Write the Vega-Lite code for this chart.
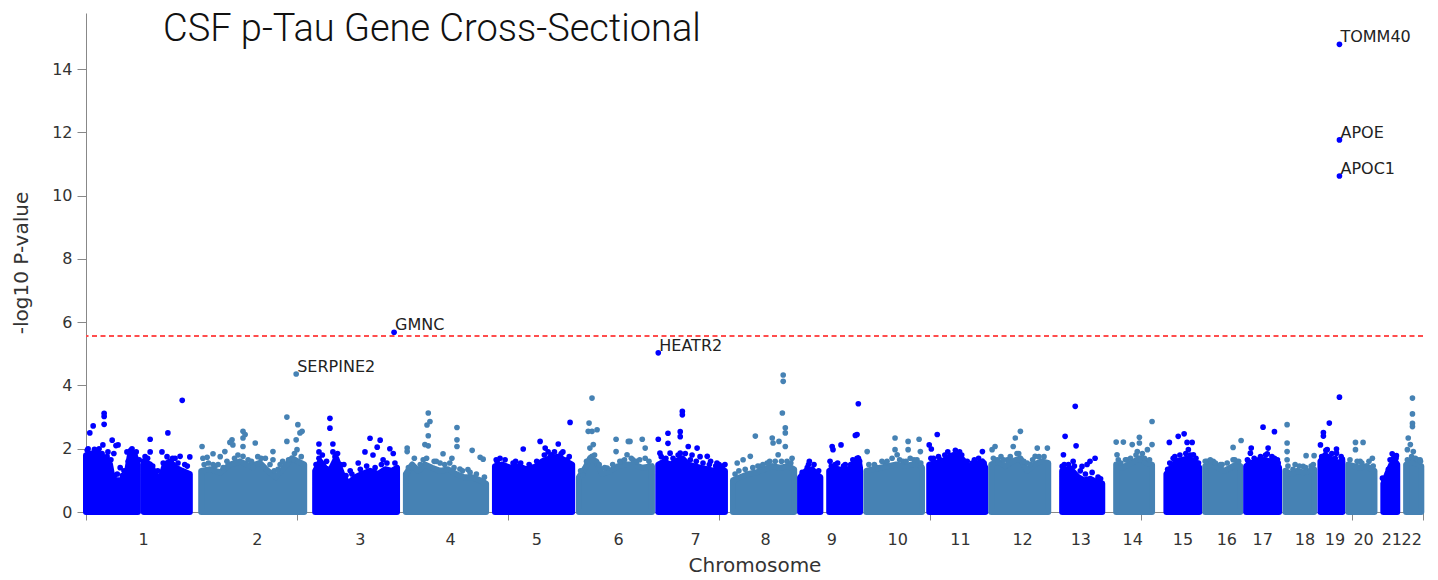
{
  "$schema": "https://vega.github.io/schema/vega-lite/v6.json",
  "width": 1337,
  "height": 499,
  "autosize": {"type": "none"},
  "padding": {"left": 86, "top": 13, "right": 15, "bottom": 68},
  "background": "white",
  "title": {"text": "CSF p-Tau Gene Cross-Sectional", "font": "Roboto", "fontSize": 38, "fontWeight": 300, "color": "#111", "anchor": "start", "frame": "group", "orient": "top", "offset": -66, "dx": 77, "baseline": "alphabetic"},
  "config": {
    "view": {"stroke": null},
    "axis": {"labelFont": "DejaVu Sans", "titleFont": "DejaVu Sans", "labelColor": "#333", "titleColor": "#333", "domainColor": "#888", "tickColor": "#888", "grid": false, "titleFontWeight": "normal"}
  },
  "datasets": {
    "mass": [
      {"chr":1,"seg":1,"pos":0,"logp":1.8},{"chr":1,"seg":1,"pos":14,"logp":1.85},{"chr":1,"seg":1,"pos":33,"logp":1.8},{"chr":1,"seg":1,"pos":47,"logp":1.7},{"chr":1,"seg":1,"pos":57,"logp":1.5},{"chr":1,"seg":1,"pos":64,"logp":1.0},{"chr":1,"seg":1,"pos":81,"logp":1.0},{"chr":1,"seg":1,"pos":95,"logp":1.1},{"chr":1,"seg":1,"pos":104,"logp":1.8},{"chr":1,"seg":1,"pos":114,"logp":1.85},{"chr":1,"seg":1,"pos":123,"logp":1.5},
      {"chr":1,"seg":2,"pos":137,"logp":1.6},{"chr":1,"seg":2,"pos":152,"logp":1.5},{"chr":1,"seg":2,"pos":164,"logp":1.2},{"chr":1,"seg":2,"pos":175,"logp":1.0},{"chr":1,"seg":2,"pos":187,"logp":1.5},{"chr":1,"seg":2,"pos":199,"logp":1.6},{"chr":1,"seg":2,"pos":213,"logp":1.4},{"chr":1,"seg":2,"pos":228,"logp":1.3},{"chr":1,"seg":2,"pos":246,"logp":1.2},
      {"chr":2,"seg":1,"pos":273,"logp":1.3},{"chr":2,"seg":1,"pos":294,"logp":1.35},{"chr":2,"seg":1,"pos":318,"logp":1.25},{"chr":2,"seg":1,"pos":341,"logp":1.5},{"chr":2,"seg":1,"pos":365,"logp":1.6},{"chr":2,"seg":1,"pos":389,"logp":1.45},{"chr":2,"seg":1,"pos":412,"logp":1.55},{"chr":2,"seg":1,"pos":431,"logp":1.3},{"chr":2,"seg":1,"pos":450,"logp":1.1},{"chr":2,"seg":1,"pos":472,"logp":1.45},{"chr":2,"seg":1,"pos":488,"logp":1.7},{"chr":2,"seg":1,"pos":502,"logp":1.6},{"chr":2,"seg":1,"pos":517,"logp":1.5},
      {"chr":3,"seg":1,"pos":543,"logp":1.3},{"chr":3,"seg":1,"pos":555,"logp":1.6},{"chr":3,"seg":1,"pos":566,"logp":1.4},{"chr":3,"seg":1,"pos":578,"logp":1.3},{"chr":3,"seg":1,"pos":593,"logp":1.7},{"chr":3,"seg":1,"pos":607,"logp":1.2},{"chr":3,"seg":1,"pos":621,"logp":0.9},{"chr":3,"seg":1,"pos":638,"logp":1.1},{"chr":3,"seg":1,"pos":654,"logp":1.2},{"chr":3,"seg":1,"pos":673,"logp":1.3},{"chr":3,"seg":1,"pos":692,"logp":1.2},{"chr":3,"seg":1,"pos":709,"logp":1.35},{"chr":3,"seg":1,"pos":725,"logp":1.3},{"chr":3,"seg":1,"pos":737,"logp":1.4},
      {"chr":4,"seg":1,"pos":758,"logp":1.2},{"chr":4,"seg":1,"pos":773,"logp":1.5},{"chr":4,"seg":1,"pos":787,"logp":1.3},{"chr":4,"seg":1,"pos":803,"logp":1.5},{"chr":4,"seg":1,"pos":820,"logp":1.4},{"chr":4,"seg":1,"pos":839,"logp":1.3},{"chr":4,"seg":1,"pos":858,"logp":1.35},{"chr":4,"seg":1,"pos":877,"logp":1.2},{"chr":4,"seg":1,"pos":896,"logp":1.1},{"chr":4,"seg":1,"pos":915,"logp":1.1},{"chr":4,"seg":1,"pos":934,"logp":1.0},{"chr":4,"seg":1,"pos":948,"logp":0.9},
      {"chr":5,"seg":1,"pos":969,"logp":1.45},{"chr":5,"seg":1,"pos":986,"logp":1.5},{"chr":5,"seg":1,"pos":1005,"logp":1.4},{"chr":5,"seg":1,"pos":1024,"logp":1.45},{"chr":5,"seg":1,"pos":1043,"logp":1.35},{"chr":5,"seg":1,"pos":1062,"logp":1.4},{"chr":5,"seg":1,"pos":1081,"logp":1.6},{"chr":5,"seg":1,"pos":1100,"logp":1.7},{"chr":5,"seg":1,"pos":1119,"logp":1.75},{"chr":5,"seg":1,"pos":1138,"logp":1.6},{"chr":5,"seg":1,"pos":1152,"logp":1.5},
      {"chr":6,"seg":1,"pos":1168,"logp":1.1},{"chr":6,"seg":1,"pos":1183,"logp":1.4},{"chr":6,"seg":1,"pos":1194,"logp":1.7},{"chr":6,"seg":1,"pos":1209,"logp":1.6},{"chr":6,"seg":1,"pos":1223,"logp":1.2},{"chr":6,"seg":1,"pos":1242,"logp":1.3},{"chr":6,"seg":1,"pos":1261,"logp":1.45},{"chr":6,"seg":1,"pos":1280,"logp":1.5},{"chr":6,"seg":1,"pos":1299,"logp":1.5},{"chr":6,"seg":1,"pos":1318,"logp":1.4},{"chr":6,"seg":1,"pos":1341,"logp":1.45},
      {"chr":7,"seg":1,"pos":1356,"logp":1.5},{"chr":7,"seg":1,"pos":1370,"logp":1.6},{"chr":7,"seg":1,"pos":1384,"logp":1.5},{"chr":7,"seg":1,"pos":1398,"logp":1.6},{"chr":7,"seg":1,"pos":1413,"logp":1.7},{"chr":7,"seg":1,"pos":1427,"logp":1.5},{"chr":7,"seg":1,"pos":1441,"logp":1.45},{"chr":7,"seg":1,"pos":1455,"logp":1.4},{"chr":7,"seg":1,"pos":1472,"logp":1.35},{"chr":7,"seg":1,"pos":1488,"logp":1.3},{"chr":7,"seg":1,"pos":1503,"logp":1.35},{"chr":7,"seg":1,"pos":1514,"logp":1.3},
      {"chr":8,"seg":1,"pos":1533,"logp":1.0},{"chr":8,"seg":1,"pos":1550,"logp":1.1},{"chr":8,"seg":1,"pos":1569,"logp":1.2},{"chr":8,"seg":1,"pos":1588,"logp":1.25},{"chr":8,"seg":1,"pos":1607,"logp":1.35},{"chr":8,"seg":1,"pos":1626,"logp":1.45},{"chr":8,"seg":1,"pos":1645,"logp":1.4},{"chr":8,"seg":1,"pos":1664,"logp":1.45},{"chr":8,"seg":1,"pos":1678,"logp":1.35},
      {"chr":9,"seg":1,"pos":1692,"logp":1.1},{"chr":9,"seg":1,"pos":1706,"logp":1.3},{"chr":9,"seg":1,"pos":1721,"logp":1.35},{"chr":9,"seg":1,"pos":1730,"logp":1.2},{"chr":9,"seg":1,"pos":1740,"logp":1.1},
      {"chr":9,"seg":2,"pos":1761,"logp":1.3},{"chr":9,"seg":2,"pos":1775,"logp":1.4},{"chr":9,"seg":2,"pos":1789,"logp":1.3},{"chr":9,"seg":2,"pos":1806,"logp":1.35},{"chr":9,"seg":2,"pos":1820,"logp":1.5},{"chr":9,"seg":2,"pos":1830,"logp":1.7},{"chr":9,"seg":2,"pos":1834,"logp":1.4},
      {"chr":10,"seg":1,"pos":1849,"logp":1.3},{"chr":10,"seg":1,"pos":1863,"logp":1.35},{"chr":10,"seg":1,"pos":1882,"logp":1.4},{"chr":10,"seg":1,"pos":1901,"logp":1.45},{"chr":10,"seg":1,"pos":1920,"logp":1.5},{"chr":10,"seg":1,"pos":1939,"logp":1.45},{"chr":10,"seg":1,"pos":1958,"logp":1.5},{"chr":10,"seg":1,"pos":1972,"logp":1.55},{"chr":10,"seg":1,"pos":1981,"logp":1.4},
      {"chr":11,"seg":1,"pos":1998,"logp":1.5},{"chr":11,"seg":1,"pos":2012,"logp":1.55},{"chr":11,"seg":1,"pos":2029,"logp":1.6},{"chr":11,"seg":1,"pos":2048,"logp":1.75},{"chr":11,"seg":1,"pos":2067,"logp":1.8},{"chr":11,"seg":1,"pos":2081,"logp":1.6},{"chr":11,"seg":1,"pos":2095,"logp":1.4},{"chr":11,"seg":1,"pos":2109,"logp":1.5},{"chr":11,"seg":1,"pos":2124,"logp":1.6},{"chr":11,"seg":1,"pos":2131,"logp":1.4},
      {"chr":12,"seg":1,"pos":2145,"logp":1.5},{"chr":12,"seg":1,"pos":2161,"logp":1.6},{"chr":12,"seg":1,"pos":2178,"logp":1.45},{"chr":12,"seg":1,"pos":2195,"logp":1.6},{"chr":12,"seg":1,"pos":2214,"logp":1.7},{"chr":12,"seg":1,"pos":2230,"logp":1.3},{"chr":12,"seg":1,"pos":2247,"logp":1.5},{"chr":12,"seg":1,"pos":2263,"logp":1.6},{"chr":12,"seg":1,"pos":2280,"logp":1.55},
      {"chr":13,"seg":1,"pos":2313,"logp":1.3},{"chr":13,"seg":1,"pos":2325,"logp":1.35},{"chr":13,"seg":1,"pos":2337,"logp":1.3},{"chr":13,"seg":1,"pos":2351,"logp":1.1},{"chr":13,"seg":1,"pos":2365,"logp":1.0},{"chr":13,"seg":1,"pos":2379,"logp":1.05},{"chr":13,"seg":1,"pos":2394,"logp":0.95},{"chr":13,"seg":1,"pos":2408,"logp":0.9},
      {"chr":14,"seg":1,"pos":2441,"logp":1.5},{"chr":14,"seg":1,"pos":2455,"logp":1.4},{"chr":14,"seg":1,"pos":2470,"logp":1.5},{"chr":14,"seg":1,"pos":2484,"logp":1.6},{"chr":14,"seg":1,"pos":2498,"logp":1.7},{"chr":14,"seg":1,"pos":2512,"logp":1.55},{"chr":14,"seg":1,"pos":2526,"logp":1.5},
      {"chr":15,"seg":1,"pos":2560,"logp":1.2},{"chr":15,"seg":1,"pos":2571,"logp":1.4},{"chr":15,"seg":1,"pos":2583,"logp":1.6},{"chr":15,"seg":1,"pos":2598,"logp":1.65},{"chr":15,"seg":1,"pos":2612,"logp":1.7},{"chr":15,"seg":1,"pos":2626,"logp":1.6},{"chr":15,"seg":1,"pos":2638,"logp":1.4},
      {"chr":16,"seg":1,"pos":2652,"logp":1.45},{"chr":16,"seg":1,"pos":2669,"logp":1.5},{"chr":16,"seg":1,"pos":2683,"logp":1.4},{"chr":16,"seg":1,"pos":2697,"logp":1.3},{"chr":16,"seg":1,"pos":2711,"logp":1.4},{"chr":16,"seg":1,"pos":2726,"logp":1.5},{"chr":16,"seg":1,"pos":2735,"logp":1.45},
      {"chr":17,"seg":1,"pos":2749,"logp":1.45},{"chr":17,"seg":1,"pos":2763,"logp":1.55},{"chr":17,"seg":1,"pos":2778,"logp":1.6},{"chr":17,"seg":1,"pos":2792,"logp":1.65},{"chr":17,"seg":1,"pos":2806,"logp":1.6},{"chr":17,"seg":1,"pos":2820,"logp":1.55},{"chr":17,"seg":1,"pos":2827,"logp":1.4},
      {"chr":18,"seg":1,"pos":2842,"logp":1.3},{"chr":18,"seg":1,"pos":2856,"logp":1.2},{"chr":18,"seg":1,"pos":2870,"logp":1.3},{"chr":18,"seg":1,"pos":2884,"logp":1.25},{"chr":18,"seg":1,"pos":2899,"logp":1.3},{"chr":18,"seg":1,"pos":2910,"logp":1.35},
      {"chr":19,"seg":1,"pos":2925,"logp":1.6},{"chr":19,"seg":1,"pos":2936,"logp":1.8},{"chr":19,"seg":1,"pos":2948,"logp":1.7},{"chr":19,"seg":1,"pos":2963,"logp":1.55},{"chr":19,"seg":1,"pos":2977,"logp":1.6},
      {"chr":20,"seg":1,"pos":2991,"logp":1.5},{"chr":20,"seg":1,"pos":3005,"logp":1.45},{"chr":20,"seg":1,"pos":3019,"logp":1.4},{"chr":20,"seg":1,"pos":3034,"logp":1.45},{"chr":20,"seg":1,"pos":3053,"logp":1.3},
      {"chr":21,"seg":1,"pos":3074,"logp":0.9},{"chr":21,"seg":1,"pos":3083,"logp":1.2},{"chr":21,"seg":1,"pos":3093,"logp":1.5},{"chr":21,"seg":1,"pos":3102,"logp":1.6},{"chr":21,"seg":1,"pos":3107,"logp":1.5},
      {"chr":22,"seg":1,"pos":3128,"logp":1.5},{"chr":22,"seg":1,"pos":3138,"logp":1.6},{"chr":22,"seg":1,"pos":3147,"logp":1.55},{"chr":22,"seg":1,"pos":3157,"logp":1.5},{"chr":22,"seg":1,"pos":3164,"logp":1.45}
    ],
    "snps": [
      {"chr":1,"pos":9,"logp":2.5},{"chr":1,"pos":17,"logp":2.72},{"chr":1,"pos":43,"logp":3.12},{"chr":1,"pos":43,"logp":3.02},{"chr":1,"pos":43,"logp":2.77},{"chr":1,"pos":40,"logp":2.12},{"chr":1,"pos":62,"logp":2.27},{"chr":1,"pos":71,"logp":2.1},{"chr":1,"pos":76,"logp":2.12},{"chr":1,"pos":52,"logp":1.9},{"chr":1,"pos":59,"logp":1.65},{"chr":1,"pos":31,"logp":2.0},{"chr":1,"pos":97,"logp":1.9},{"chr":1,"pos":109,"logp":2.0},{"chr":1,"pos":152,"logp":2.3},{"chr":1,"pos":152,"logp":1.9},{"chr":1,"pos":180,"logp":1.9},{"chr":1,"pos":194,"logp":2.5},{"chr":1,"pos":228,"logp":3.53},{"chr":1,"pos":223,"logp":1.76},{"chr":1,"pos":246,"logp":1.74},{"chr":1,"pos":211,"logp":1.7},{"chr":1,"pos":81,"logp":1.4},{"chr":1,"pos":116,"logp":1.55},{"chr":1,"pos":5,"logp":2.0},{"chr":1,"pos":24,"logp":1.95},{"chr":1,"pos":66,"logp":1.85},{"chr":1,"pos":90,"logp":1.3},
      {"chr":1,"pos":3,"logp":1.95},{"chr":1,"pos":20,"logp":1.98},{"chr":1,"pos":28,"logp":1.9},{"chr":1,"pos":38,"logp":1.85},{"chr":1,"pos":50,"logp":1.75},{"chr":1,"pos":68,"logp":1.15},{"chr":1,"pos":74,"logp":1.2},{"chr":1,"pos":86,"logp":1.15},{"chr":1,"pos":100,"logp":1.6},{"chr":1,"pos":106,"logp":1.95},{"chr":1,"pos":119,"logp":1.9},{"chr":1,"pos":126,"logp":1.65},{"chr":1,"pos":140,"logp":1.75},{"chr":1,"pos":146,"logp":1.7},{"chr":1,"pos":158,"logp":1.45},{"chr":1,"pos":170,"logp":1.3},{"chr":1,"pos":183,"logp":1.55},{"chr":1,"pos":192,"logp":1.75},{"chr":1,"pos":205,"logp":1.7},{"chr":1,"pos":218,"logp":1.55},{"chr":1,"pos":234,"logp":1.5},{"chr":1,"pos":240,"logp":1.45},
      {"chr":2,"pos":275,"logp":2.07},{"chr":2,"pos":287,"logp":1.73},{"chr":2,"pos":301,"logp":1.84},{"chr":2,"pos":329,"logp":1.91},{"chr":2,"pos":346,"logp":2.28},{"chr":2,"pos":348,"logp":2.12},{"chr":2,"pos":372,"logp":2.55},{"chr":2,"pos":372,"logp":2.34},{"chr":2,"pos":372,"logp":2.07},{"chr":2,"pos":372,"logp":1.76},{"chr":2,"pos":401,"logp":2.18},{"chr":2,"pos":419,"logp":1.42},{"chr":2,"pos":443,"logp":1.91},{"chr":2,"pos":443,"logp":1.65},{"chr":2,"pos":476,"logp":3.0},{"chr":2,"pos":476,"logp":2.23},{"chr":2,"pos":498,"logp":2.28},{"chr":2,"pos":502,"logp":2.76},{"chr":2,"pos":507,"logp":2.5},{"chr":2,"pos":512,"logp":2.55},{"chr":2,"pos":500,"logp":1.97},{"chr":2,"pos":491,"logp":1.65},{"chr":2,"pos":277,"logp":1.7},{"chr":2,"pos":334,"logp":1.6},{"chr":2,"pos":396,"logp":1.4},{"chr":2,"pos":341,"logp":2.2},{"chr":2,"pos":377,"logp":2.45},{"chr":2,"pos":301,"logp":1.5},{"chr":2,"pos":318,"logp":1.75},{"chr":2,"pos":425,"logp":1.7},{"chr":2,"pos":460,"logp":1.5},
      {"chr":2,"pos":280,"logp":1.5},{"chr":2,"pos":290,"logp":1.55},{"chr":2,"pos":306,"logp":1.45},{"chr":2,"pos":313,"logp":1.5},{"chr":2,"pos":325,"logp":1.4},{"chr":2,"pos":352,"logp":1.7},{"chr":2,"pos":360,"logp":1.8},{"chr":2,"pos":384,"logp":1.65},{"chr":2,"pos":392,"logp":1.6},{"chr":2,"pos":407,"logp":1.75},{"chr":2,"pos":415,"logp":1.7},{"chr":2,"pos":436,"logp":1.5},{"chr":2,"pos":446,"logp":1.3},{"chr":2,"pos":455,"logp":1.35},{"chr":2,"pos":466,"logp":1.6},{"chr":2,"pos":480,"logp":1.65},{"chr":2,"pos":494,"logp":1.85},{"chr":2,"pos":510,"logp":1.75},
      {"chr":3,"pos":552,"logp":2.15},{"chr":3,"pos":552,"logp":1.9},{"chr":3,"pos":552,"logp":1.7},{"chr":3,"pos":585,"logp":2.15},{"chr":3,"pos":585,"logp":1.9},{"chr":3,"pos":590,"logp":1.75},{"chr":3,"pos":578,"logp":2.96},{"chr":3,"pos":578,"logp":2.65},{"chr":3,"pos":626,"logp":1.3},{"chr":3,"pos":673,"logp":2.33},{"chr":3,"pos":697,"logp":2.27},{"chr":3,"pos":690,"logp":2.05},{"chr":3,"pos":720,"logp":2.0},{"chr":3,"pos":661,"logp":1.9},{"chr":3,"pos":680,"logp":1.8},{"chr":3,"pos":704,"logp":1.65},{"chr":3,"pos":728,"logp":1.85},{"chr":3,"pos":645,"logp":1.55},{"chr":3,"pos":611,"logp":1.5},{"chr":3,"pos":548,"logp":1.5},{"chr":3,"pos":600,"logp":1.45},
      {"chr":3,"pos":545,"logp":1.5},{"chr":3,"pos":560,"logp":1.8},{"chr":3,"pos":570,"logp":1.6},{"chr":3,"pos":596,"logp":1.85},{"chr":3,"pos":603,"logp":1.5},{"chr":3,"pos":616,"logp":1.15},{"chr":3,"pos":630,"logp":1.2},{"chr":3,"pos":650,"logp":1.35},{"chr":3,"pos":665,"logp":1.45},{"chr":3,"pos":685,"logp":1.4},{"chr":3,"pos":700,"logp":1.5},{"chr":3,"pos":713,"logp":1.55},{"chr":3,"pos":732,"logp":1.55},
      {"chr":4,"pos":761,"logp":2.02},{"chr":4,"pos":761,"logp":1.91},{"chr":4,"pos":811,"logp":3.13},{"chr":4,"pos":815,"logp":2.86},{"chr":4,"pos":808,"logp":2.75},{"chr":4,"pos":811,"logp":2.41},{"chr":4,"pos":803,"logp":2.13},{"chr":4,"pos":811,"logp":2.09},{"chr":4,"pos":799,"logp":1.65},{"chr":4,"pos":846,"logp":1.84},{"chr":4,"pos":867,"logp":1.7},{"chr":4,"pos":879,"logp":2.67},{"chr":4,"pos":879,"logp":2.28},{"chr":4,"pos":879,"logp":2.07},{"chr":4,"pos":915,"logp":1.95},{"chr":4,"pos":934,"logp":1.73},{"chr":4,"pos":941,"logp":1.67},{"chr":4,"pos":905,"logp":1.34},{"chr":4,"pos":839,"logp":1.55},{"chr":4,"pos":886,"logp":1.36},{"chr":4,"pos":825,"logp":1.6},
      {"chr":4,"pos":764,"logp":1.4},{"chr":4,"pos":778,"logp":1.7},{"chr":4,"pos":792,"logp":1.5},{"chr":4,"pos":807,"logp":1.7},{"chr":4,"pos":830,"logp":1.6},{"chr":4,"pos":850,"logp":1.5},{"chr":4,"pos":862,"logp":1.55},{"chr":4,"pos":872,"logp":1.4},{"chr":4,"pos":892,"logp":1.3},{"chr":4,"pos":910,"logp":1.25},{"chr":4,"pos":925,"logp":1.2},{"chr":4,"pos":944,"logp":1.1},
      {"chr":5,"pos":1036,"logp":1.99},{"chr":5,"pos":1076,"logp":2.23},{"chr":5,"pos":1088,"logp":2.02},{"chr":5,"pos":1119,"logp":2.15},{"chr":5,"pos":1147,"logp":2.83},{"chr":5,"pos":1104,"logp":1.81},{"chr":5,"pos":1140,"logp":1.65},{"chr":5,"pos":974,"logp":1.6},{"chr":5,"pos":1000,"logp":1.42},{"chr":5,"pos":1059,"logp":1.42},{"chr":5,"pos":1123,"logp":1.65},{"chr":5,"pos":1095,"logp":1.9},{"chr":5,"pos":1100,"logp":1.75},{"chr":5,"pos":1012,"logp":1.55},{"chr":5,"pos":1130,"logp":1.9},
      {"chr":5,"pos":972,"logp":1.65},{"chr":5,"pos":981,"logp":1.7},{"chr":5,"pos":993,"logp":1.65},{"chr":5,"pos":1018,"logp":1.6},{"chr":5,"pos":1030,"logp":1.55},{"chr":5,"pos":1050,"logp":1.5},{"chr":5,"pos":1068,"logp":1.6},{"chr":5,"pos":1086,"logp":1.8},{"chr":5,"pos":1110,"logp":1.9},{"chr":5,"pos":1126,"logp":1.85},{"chr":5,"pos":1145,"logp":1.75},
      {"chr":6,"pos":1199,"logp":3.6},{"chr":6,"pos":1192,"logp":2.81},{"chr":6,"pos":1190,"logp":2.55},{"chr":6,"pos":1211,"logp":2.6},{"chr":6,"pos":1199,"logp":2.55},{"chr":6,"pos":1194,"logp":2.02},{"chr":6,"pos":1202,"logp":2.13},{"chr":6,"pos":1199,"logp":1.76},{"chr":6,"pos":1256,"logp":2.3},{"chr":6,"pos":1256,"logp":1.91},{"chr":6,"pos":1285,"logp":2.23},{"chr":6,"pos":1289,"logp":2.23},{"chr":6,"pos":1318,"logp":2.3},{"chr":6,"pos":1325,"logp":2.02},{"chr":6,"pos":1325,"logp":1.7},{"chr":6,"pos":1282,"logp":1.81},{"chr":6,"pos":1296,"logp":1.65},{"chr":6,"pos":1176,"logp":1.18},{"chr":6,"pos":1235,"logp":1.39},{"chr":6,"pos":1270,"logp":1.6},
      {"chr":6,"pos":1172,"logp":1.3},{"chr":6,"pos":1186,"logp":1.6},{"chr":6,"pos":1205,"logp":1.8},{"chr":6,"pos":1216,"logp":1.5},{"chr":6,"pos":1229,"logp":1.4},{"chr":6,"pos":1248,"logp":1.5},{"chr":6,"pos":1265,"logp":1.6},{"chr":6,"pos":1276,"logp":1.65},{"chr":6,"pos":1292,"logp":1.7},{"chr":6,"pos":1305,"logp":1.6},{"chr":6,"pos":1312,"logp":1.65},{"chr":6,"pos":1334,"logp":1.6},
      {"chr":7,"pos":1413,"logp":3.18},{"chr":7,"pos":1413,"logp":3.07},{"chr":7,"pos":1408,"logp":2.54},{"chr":7,"pos":1356,"logp":2.3},{"chr":7,"pos":1379,"logp":2.49},{"chr":7,"pos":1379,"logp":2.17},{"chr":7,"pos":1408,"logp":2.38},{"chr":7,"pos":1427,"logp":2.07},{"chr":7,"pos":1448,"logp":2.02},{"chr":7,"pos":1472,"logp":1.76},{"chr":7,"pos":1514,"logp":1.5},{"chr":7,"pos":1360,"logp":1.86},{"chr":7,"pos":1455,"logp":1.75},{"chr":7,"pos":1495,"logp":1.55},{"chr":7,"pos":1384,"logp":1.86},{"chr":7,"pos":1408,"logp":1.86},{"chr":7,"pos":1436,"logp":1.8},{"chr":7,"pos":1480,"logp":1.6},
      {"chr":7,"pos":1363,"logp":1.75},{"chr":7,"pos":1374,"logp":1.7},{"chr":7,"pos":1391,"logp":1.7},{"chr":7,"pos":1403,"logp":1.8},{"chr":7,"pos":1420,"logp":1.85},{"chr":7,"pos":1432,"logp":1.65},{"chr":7,"pos":1446,"logp":1.6},{"chr":7,"pos":1462,"logp":1.55},{"chr":7,"pos":1477,"logp":1.5},{"chr":7,"pos":1492,"logp":1.45},{"chr":7,"pos":1500,"logp":1.5},{"chr":7,"pos":1509,"logp":1.45},
      {"chr":8,"pos":1652,"logp":4.33},{"chr":8,"pos":1652,"logp":4.13},{"chr":8,"pos":1650,"logp":3.13},{"chr":8,"pos":1657,"logp":2.66},{"chr":8,"pos":1657,"logp":2.5},{"chr":8,"pos":1586,"logp":2.4},{"chr":8,"pos":1626,"logp":2.34},{"chr":8,"pos":1628,"logp":2.18},{"chr":8,"pos":1642,"logp":2.23},{"chr":8,"pos":1657,"logp":2.07},{"chr":8,"pos":1640,"logp":1.81},{"chr":8,"pos":1543,"logp":1.55},{"chr":8,"pos":1557,"logp":1.65},{"chr":8,"pos":1574,"logp":1.76},{"chr":8,"pos":1673,"logp":1.7},{"chr":8,"pos":1614,"logp":1.55},{"chr":8,"pos":1597,"logp":1.44},
      {"chr":8,"pos":1538,"logp":1.2},{"chr":8,"pos":1547,"logp":1.3},{"chr":8,"pos":1562,"logp":1.35},{"chr":8,"pos":1580,"logp":1.4},{"chr":8,"pos":1592,"logp":1.45},{"chr":8,"pos":1604,"logp":1.5},{"chr":8,"pos":1620,"logp":1.6},{"chr":8,"pos":1633,"logp":1.6},{"chr":8,"pos":1648,"logp":1.6},{"chr":8,"pos":1661,"logp":1.6},{"chr":8,"pos":1670,"logp":1.55},
      {"chr":9,"pos":1714,"logp":1.6},{"chr":9,"pos":1709,"logp":1.4},{"chr":9,"pos":1768,"logp":2.07},{"chr":9,"pos":1770,"logp":1.97},{"chr":9,"pos":1789,"logp":2.12},{"chr":9,"pos":1763,"logp":1.6},{"chr":9,"pos":1775,"logp":1.5},{"chr":9,"pos":1799,"logp":1.5},{"chr":9,"pos":1827,"logp":2.45},{"chr":9,"pos":1823,"logp":2.42},{"chr":9,"pos":1830,"logp":3.42},{"chr":9,"pos":1827,"logp":1.7},{"chr":9,"pos":1787,"logp":1.35},
      {"chr":9,"pos":1697,"logp":1.25},{"chr":9,"pos":1712,"logp":1.5},{"chr":9,"pos":1725,"logp":1.5},{"chr":9,"pos":1736,"logp":1.3},{"chr":9,"pos":1766,"logp":1.45},{"chr":9,"pos":1781,"logp":1.55},{"chr":9,"pos":1795,"logp":1.45},{"chr":9,"pos":1812,"logp":1.5},{"chr":9,"pos":1817,"logp":1.65},{"chr":9,"pos":1833,"logp":1.6},
      {"chr":10,"pos":1851,"logp":1.91},{"chr":10,"pos":1894,"logp":1.55},{"chr":10,"pos":1917,"logp":2.34},{"chr":10,"pos":1917,"logp":1.97},{"chr":10,"pos":1922,"logp":1.81},{"chr":10,"pos":1948,"logp":2.23},{"chr":10,"pos":1948,"logp":1.97},{"chr":10,"pos":1974,"logp":2.3},{"chr":10,"pos":1977,"logp":1.91},{"chr":10,"pos":1969,"logp":1.65},{"chr":10,"pos":1936,"logp":1.6},{"chr":10,"pos":1875,"logp":1.4},
      {"chr":10,"pos":1855,"logp":1.5},{"chr":10,"pos":1868,"logp":1.5},{"chr":10,"pos":1886,"logp":1.6},{"chr":10,"pos":1898,"logp":1.6},{"chr":10,"pos":1910,"logp":1.7},{"chr":10,"pos":1928,"logp":1.65},{"chr":10,"pos":1943,"logp":1.6},{"chr":10,"pos":1953,"logp":1.7},{"chr":10,"pos":1962,"logp":1.65},{"chr":10,"pos":1978,"logp":1.55},
      {"chr":11,"pos":1998,"logp":2.12},{"chr":11,"pos":2003,"logp":1.99},{"chr":11,"pos":2017,"logp":2.45},{"chr":11,"pos":2124,"logp":1.91},{"chr":11,"pos":2048,"logp":1.78},{"chr":11,"pos":2055,"logp":1.81},{"chr":11,"pos":2024,"logp":1.65},{"chr":11,"pos":2070,"logp":1.9},{"chr":11,"pos":2100,"logp":1.55},
      {"chr":11,"pos":2002,"logp":1.7},{"chr":11,"pos":2008,"logp":1.7},{"chr":11,"pos":2020,"logp":1.75},{"chr":11,"pos":2035,"logp":1.8},{"chr":11,"pos":2042,"logp":1.9},{"chr":11,"pos":2060,"logp":1.95},{"chr":11,"pos":2075,"logp":1.8},{"chr":11,"pos":2088,"logp":1.6},{"chr":11,"pos":2105,"logp":1.65},{"chr":11,"pos":2115,"logp":1.7},{"chr":11,"pos":2128,"logp":1.55},
      {"chr":12,"pos":2154,"logp":2.07},{"chr":12,"pos":2147,"logp":1.97},{"chr":12,"pos":2202,"logp":2.34},{"chr":12,"pos":2214,"logp":2.55},{"chr":12,"pos":2197,"logp":2.07},{"chr":12,"pos":2254,"logp":2.02},{"chr":12,"pos":2249,"logp":1.76},{"chr":12,"pos":2230,"logp":1.55},{"chr":12,"pos":2278,"logp":2.02},{"chr":12,"pos":2183,"logp":1.65},{"chr":12,"pos":2159,"logp":1.65},{"chr":12,"pos":2210,"logp":1.85},
      {"chr":12,"pos":2150,"logp":1.7},{"chr":12,"pos":2168,"logp":1.75},{"chr":12,"pos":2174,"logp":1.65},{"chr":12,"pos":2190,"logp":1.75},{"chr":12,"pos":2206,"logp":1.85},{"chr":12,"pos":2222,"logp":1.6},{"chr":12,"pos":2238,"logp":1.5},{"chr":12,"pos":2243,"logp":1.65},{"chr":12,"pos":2258,"logp":1.75},{"chr":12,"pos":2270,"logp":1.75},
      {"chr":13,"pos":2344,"logp":3.34},{"chr":13,"pos":2320,"logp":2.39},{"chr":13,"pos":2346,"logp":2.09},{"chr":13,"pos":2316,"logp":1.81},{"chr":13,"pos":2339,"logp":1.6},{"chr":13,"pos":2313,"logp":1.44},{"chr":13,"pos":2360,"logp":1.44},{"chr":13,"pos":2379,"logp":1.6},{"chr":13,"pos":2391,"logp":1.7},{"chr":13,"pos":2372,"logp":1.5},{"chr":13,"pos":2332,"logp":1.38},
      {"chr":13,"pos":2318,"logp":1.5},{"chr":13,"pos":2328,"logp":1.5},{"chr":13,"pos":2342,"logp":1.45},{"chr":13,"pos":2356,"logp":1.3},{"chr":13,"pos":2368,"logp":1.2},{"chr":13,"pos":2384,"logp":1.25},{"chr":13,"pos":2398,"logp":1.1},{"chr":13,"pos":2404,"logp":1.05},
      {"chr":14,"pos":2441,"logp":2.21},{"chr":14,"pos":2458,"logp":2.21},{"chr":14,"pos":2479,"logp":2.13},{"chr":14,"pos":2496,"logp":2.36},{"chr":14,"pos":2496,"logp":2.18},{"chr":14,"pos":2515,"logp":1.97},{"chr":14,"pos":2526,"logp":2.86},{"chr":14,"pos":2526,"logp":2.13},{"chr":14,"pos":2443,"logp":1.81},{"chr":14,"pos":2491,"logp":1.91},{"chr":14,"pos":2463,"logp":1.65},
      {"chr":14,"pos":2446,"logp":1.65},{"chr":14,"pos":2452,"logp":1.55},{"chr":14,"pos":2466,"logp":1.65},{"chr":14,"pos":2475,"logp":1.7},{"chr":14,"pos":2488,"logp":1.8},{"chr":14,"pos":2503,"logp":1.85},{"chr":14,"pos":2508,"logp":1.7},{"chr":14,"pos":2520,"logp":1.65},
      {"chr":15,"pos":2567,"logp":2.2},{"chr":15,"pos":2588,"logp":2.39},{"chr":15,"pos":2602,"logp":2.47},{"chr":15,"pos":2609,"logp":2.2},{"chr":15,"pos":2621,"logp":2.2},{"chr":15,"pos":2612,"logp":1.97},{"chr":15,"pos":2624,"logp":1.81},{"chr":15,"pos":2576,"logp":1.7},{"chr":15,"pos":2600,"logp":1.6},{"chr":15,"pos":2633,"logp":1.55},
      {"chr":15,"pos":2563,"logp":1.35},{"chr":15,"pos":2568,"logp":1.55},{"chr":15,"pos":2580,"logp":1.75},{"chr":15,"pos":2592,"logp":1.8},{"chr":15,"pos":2606,"logp":1.85},{"chr":15,"pos":2617,"logp":1.8},{"chr":15,"pos":2630,"logp":1.7},{"chr":15,"pos":2636,"logp":1.55},
      {"chr":16,"pos":2652,"logp":1.6},{"chr":16,"pos":2671,"logp":1.6},{"chr":16,"pos":2718,"logp":2.04},{"chr":16,"pos":2737,"logp":2.26},{"chr":16,"pos":2718,"logp":1.65},{"chr":16,"pos":2692,"logp":1.5},
      {"chr":16,"pos":2656,"logp":1.6},{"chr":16,"pos":2664,"logp":1.65},{"chr":16,"pos":2676,"logp":1.55},{"chr":16,"pos":2688,"logp":1.5},{"chr":16,"pos":2704,"logp":1.55},{"chr":16,"pos":2722,"logp":1.65},{"chr":16,"pos":2731,"logp":1.6},
      {"chr":17,"pos":2789,"logp":2.68},{"chr":17,"pos":2816,"logp":2.54},{"chr":17,"pos":2761,"logp":2.02},{"chr":17,"pos":2759,"logp":1.86},{"chr":17,"pos":2801,"logp":2.02},{"chr":17,"pos":2799,"logp":1.84},{"chr":17,"pos":2778,"logp":1.65},{"chr":17,"pos":2823,"logp":1.65},{"chr":17,"pos":2752,"logp":1.65},
      {"chr":17,"pos":2754,"logp":1.6},{"chr":17,"pos":2768,"logp":1.7},{"chr":17,"pos":2783,"logp":1.75},{"chr":17,"pos":2795,"logp":1.8},{"chr":17,"pos":2810,"logp":1.75},{"chr":17,"pos":2816,"logp":1.7},{"chr":17,"pos":2825,"logp":1.55},
      {"chr":18,"pos":2846,"logp":2.76},{"chr":18,"pos":2846,"logp":2.18},{"chr":18,"pos":2846,"logp":1.91},{"chr":18,"pos":2846,"logp":1.65},{"chr":18,"pos":2891,"logp":1.78},{"chr":18,"pos":2910,"logp":1.78},{"chr":18,"pos":2865,"logp":1.5},{"chr":18,"pos":2884,"logp":1.44},
      {"chr":18,"pos":2848,"logp":1.45},{"chr":18,"pos":2860,"logp":1.35},{"chr":18,"pos":2875,"logp":1.45},{"chr":18,"pos":2890,"logp":1.4},{"chr":18,"pos":2903,"logp":1.45},{"chr":18,"pos":2908,"logp":1.5},
      {"chr":19,"pos":2932,"logp":2.51},{"chr":19,"pos":2932,"logp":2.4},{"chr":19,"pos":2946,"logp":2.81},{"chr":19,"pos":2925,"logp":2.12},{"chr":19,"pos":2963,"logp":1.99},{"chr":19,"pos":2963,"logp":1.86},{"chr":19,"pos":2977,"logp":1.67},{"chr":19,"pos":2941,"logp":1.97},{"chr":19,"pos":2970,"logp":3.63},
      {"chr":19,"pos":2928,"logp":1.75},{"chr":19,"pos":2938,"logp":1.95},{"chr":19,"pos":2952,"logp":1.85},{"chr":19,"pos":2960,"logp":1.7},{"chr":19,"pos":2974,"logp":1.75},
      {"chr":20,"pos":3008,"logp":2.2},{"chr":20,"pos":3026,"logp":2.2},{"chr":20,"pos":3008,"logp":1.97},{"chr":20,"pos":3048,"logp":1.7},{"chr":20,"pos":3019,"logp":1.6},
      {"chr":20,"pos":2995,"logp":1.65},{"chr":20,"pos":3012,"logp":1.6},{"chr":20,"pos":3023,"logp":1.55},{"chr":20,"pos":3040,"logp":1.6},{"chr":20,"pos":3050,"logp":1.45},
      {"chr":21,"pos":3072,"logp":1.07},{"chr":21,"pos":3095,"logp":1.84},{"chr":21,"pos":3105,"logp":1.78},{"chr":21,"pos":3090,"logp":1.65},
      {"chr":21,"pos":3078,"logp":1.05},{"chr":21,"pos":3086,"logp":1.35},{"chr":21,"pos":3098,"logp":1.7},{"chr":21,"pos":3104,"logp":1.7},
      {"chr":22,"pos":3143,"logp":3.6},{"chr":22,"pos":3143,"logp":3.1},{"chr":22,"pos":3143,"logp":2.8},{"chr":22,"pos":3143,"logp":2.7},{"chr":22,"pos":3133,"logp":2.34},{"chr":22,"pos":3138,"logp":2.13},{"chr":22,"pos":3131,"logp":1.97},{"chr":22,"pos":3145,"logp":1.91},{"chr":22,"pos":3161,"logp":1.65},
      {"chr":22,"pos":3131,"logp":1.65},{"chr":22,"pos":3141,"logp":1.75},{"chr":22,"pos":3150,"logp":1.7},{"chr":22,"pos":3155,"logp":1.65},{"chr":22,"pos":3162,"logp":1.6}
    ],
    "genes": [
      {"gene":"SERPINE2","chr":2,"pos":498,"logp":4.36},
      {"gene":"GMNC","chr":3,"pos":730,"logp":5.68},
      {"gene":"HEATR2","chr":7,"pos":1356,"logp":5.03},
      {"gene":"TOMM40","chr":19,"pos":2970,"logp":14.78},
      {"gene":"APOE","chr":19,"pos":2970,"logp":11.76},
      {"gene":"APOC1","chr":19,"pos":2970,"logp":10.62}
    ],
    "cutoff": [{"logp": 5.56}]
  },
  "layer": [
    {
      "data": {"name": "mass"},
      "mark": {"type": "area", "strokeWidth": 6, "strokeJoin": "round", "strokeCap": "round", "opacity": 1},
      "encoding": {
        "x": {"field": "pos", "type": "quantitative",
          "scale": {"domain": [0, 3168], "nice": false, "zero": false},
          "axis": {
            "title": "Chromosome", "titleFontSize": 20, "titlePadding": 8,
            "values": [0,500,1000,1500,2000,2500,3000,3168,135,405,649,863,1067,1261,1443,1609,1766,1922,2071,2218,2356,2479,2598,2702,2787,2887,2958,3026,3093,3140],
            "labelExpr": "indexof([135,405,649,863,1067,1261,1443,1609,1766,1922,2071,2218,2356,2479,2598,2702,2787,2887,2958,3026,3093,3140], datum.value) >= 0 ? '' + (indexof([135,405,649,863,1067,1261,1443,1609,1766,1922,2071,2218,2356,2479,2598,2702,2787,2887,2958,3026,3093,3140], datum.value) + 1) : ''",
            "tickOpacity": {"condition": {"test": "indexof([0,500,1000,1500,2000,2500,3000,3168], datum.value) >= 0", "value": 1}, "value": 0},
            "tickSize": 8, "labelFontSize": 16, "labelPadding": 11, "labelOverlap": false, "labelBound": false, "labelFlush": false
          }},
        "y": {"field": "logp", "type": "quantitative", "stack": null,
          "scale": {"domain": [0, 15.77], "nice": false},
          "axis": {"title": "-log10 P-value", "titleFontSize": 20, "titlePadding": 20, "values": [0,2,4,6,8,10,12,14], "tickSize": 9, "labelFontSize": 16, "labelPadding": 5}},
        "detail": {"field": "seg", "type": "nominal"},
        "fill": {"field": "chr", "type": "nominal", "legend": null,
          "scale": {"domain": [1,2,3,4,5,6,7,8,9,10,11,12,13,14,15,16,17,18,19,20,21,22], "range": ["#0000ff","#4682b4","#0000ff","#4682b4","#0000ff","#4682b4","#0000ff","#4682b4","#0000ff","#4682b4","#0000ff","#4682b4","#0000ff","#4682b4","#0000ff","#4682b4","#0000ff","#4682b4","#0000ff","#4682b4","#0000ff","#4682b4"]}},
        "stroke": {"field": "chr", "type": "nominal", "legend": null,
          "scale": {"domain": [1,2,3,4,5,6,7,8,9,10,11,12,13,14,15,16,17,18,19,20,21,22], "range": ["#0000ff","#4682b4","#0000ff","#4682b4","#0000ff","#4682b4","#0000ff","#4682b4","#0000ff","#4682b4","#0000ff","#4682b4","#0000ff","#4682b4","#0000ff","#4682b4","#0000ff","#4682b4","#0000ff","#4682b4","#0000ff","#4682b4"]}}
      }
    },
    {
      "data": {"name": "snps"},
      "mark": {"type": "circle", "size": 32, "opacity": 1},
      "encoding": {
        "x": {"field": "pos", "type": "quantitative"},
        "y": {"field": "logp", "type": "quantitative"},
        "color": {"field": "chr", "type": "nominal", "legend": null,
          "scale": {"domain": [1,2,3,4,5,6,7,8,9,10,11,12,13,14,15,16,17,18,19,20,21,22], "range": ["#0000ff","#4682b4","#0000ff","#4682b4","#0000ff","#4682b4","#0000ff","#4682b4","#0000ff","#4682b4","#0000ff","#4682b4","#0000ff","#4682b4","#0000ff","#4682b4","#0000ff","#4682b4","#0000ff","#4682b4","#0000ff","#4682b4"]}}
      }
    },
    {
      "data": {"name": "cutoff"},
      "mark": {"type": "rule", "color": "#ff4d4d", "strokeWidth": 2, "strokeDash": [5, 3.5]},
      "encoding": {
        "y": {"field": "logp", "type": "quantitative"}
      }
    },
    {
      "data": {"name": "genes"},
      "mark": {"type": "circle", "size": 32, "opacity": 1},
      "encoding": {
        "x": {"field": "pos", "type": "quantitative"},
        "y": {"field": "logp", "type": "quantitative"},
        "color": {"field": "chr", "type": "nominal", "legend": null}
      }
    },
    {
      "data": {"name": "genes"},
      "mark": {"type": "text", "align": "left", "baseline": "alphabetic", "dx": 1, "dy": -2, "fontSize": 16, "font": "DejaVu Sans", "color": "#222"},
      "encoding": {
        "x": {"field": "pos", "type": "quantitative"},
        "y": {"field": "logp", "type": "quantitative"},
        "text": {"field": "gene", "type": "nominal"}
      }
    }
  ]
}
